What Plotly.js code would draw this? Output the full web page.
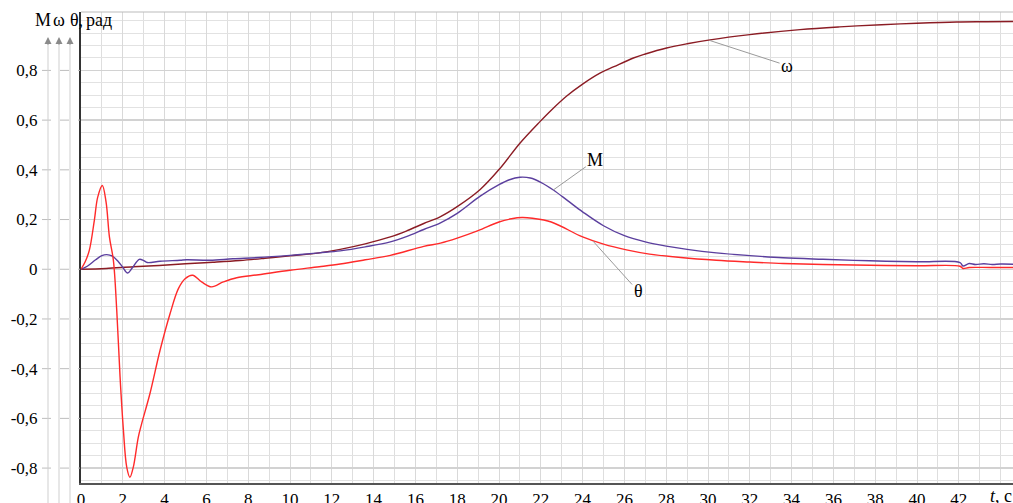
<!DOCTYPE html>
<html>
<head>
<meta charset="utf-8">
<script src="https://cdn.plot.ly/plotly-3.0.1.min.js"></script>
<style>html,body{margin:0;padding:0;background:#fff;}#chart{width:1013px;height:503px;}</style>
</head>
<body>
<div id="chart"></div>
<script>
// ---- data ----
var tOmega = [0, 1.2, 2.5, 3.74, 5, 6.3, 7.6, 8.8, 10, 11.4, 12.4, 13.6, 14.8, 15.6, 16.4, 17.18, 18, 19.1, 20.05, 21, 21.96, 22.5, 23.24, 24, 24.83, 25.5, 26.43, 27, 28.02, 29, 30.1, 32, 34.4, 36.3, 38.3, 40, 41.9, 43.3, 44.7];
var omega  = [0, 0.003, 0.01, 0.015, 0.022, 0.028, 0.035, 0.044, 0.054, 0.066, 0.08, 0.102, 0.13, 0.155, 0.184, 0.211, 0.252, 0.321, 0.406, 0.507, 0.594, 0.64, 0.697, 0.745, 0.789, 0.815, 0.85, 0.866, 0.89, 0.907, 0.923, 0.944, 0.964, 0.975, 0.984, 0.99, 0.995, 0.996, 0.997];

var tM = [0, 0.3, 0.7, 1.0, 1.23, 1.5, 1.79, 2.0, 2.23, 2.45, 2.79, 3.0, 3.17, 3.78, 4.74, 5.06, 6.17, 7.27, 8.5, 10, 11.4, 12.4, 13.6, 14.8, 15.6, 16.4, 17.2, 18, 19.1, 20, 20.5, 21, 21.5, 22, 22.6, 23.3, 24, 25, 26, 27, 28, 29, 30.4, 32, 33.6, 35.5, 37.75, 40, 42.06, 42.2, 42.5, 42.8, 43.2, 43.6, 44, 44.7];
var M  = [0, 0.012, 0.038, 0.055, 0.059, 0.053, 0.03, 0.008, -0.015, 0.005, 0.04, 0.035, 0.027, 0.032, 0.036, 0.038, 0.036, 0.042, 0.047, 0.056, 0.066, 0.074, 0.09, 0.11, 0.132, 0.16, 0.187, 0.225, 0.294, 0.34, 0.36, 0.37, 0.367, 0.35, 0.319, 0.275, 0.231, 0.175, 0.135, 0.11, 0.093, 0.08, 0.066, 0.055, 0.046, 0.04, 0.034, 0.03, 0.027, 0.013, 0.023, 0.019, 0.022, 0.019, 0.021, 0.02];

var tTheta = [0, 0.2, 0.4, 0.64, 0.8, 1.02, 1.2, 1.36, 1.55, 1.71, 1.87, 2.02, 2.19, 2.34, 2.5, 2.74, 2.9, 3.3, 3.78, 4.26, 4.66, 4.98, 5.34, 5.77, 6.25, 6.81, 7.45, 8.5, 10, 11.4, 12.4, 13.6, 14.8, 16.4, 17.2, 18, 19, 20, 20.6, 21.1, 21.6, 22.5, 24, 25, 26.1, 27.2, 28.7, 30.4, 32, 33.6, 35.5, 37.75, 40, 42.06, 42.2, 42.5, 43.5, 44.7];
var theta  = [0, 0.03, 0.077, 0.198, 0.29, 0.337, 0.27, 0.13, 0.036, -0.165, -0.434, -0.636, -0.797, -0.837, -0.797, -0.676, -0.622, -0.5, -0.327, -0.179, -0.078, -0.038, -0.024, -0.051, -0.071, -0.051, -0.034, -0.022, -0.004, 0.01, 0.021, 0.038, 0.056, 0.092, 0.105, 0.125, 0.155, 0.19, 0.203, 0.208, 0.205, 0.19, 0.13, 0.101, 0.078, 0.061, 0.047, 0.036, 0.029, 0.023, 0.019, 0.016, 0.014, 0.012, 0.003, 0.007, 0.007, 0.007];

var xTickVals = [0,2,4,6,8,10,12,14,16,18,20,22,24,26,28,30,32,34,36,38,40,42];
var yTickVals = [-0.8,-0.6,-0.4,-0.2,0,0.2,0.4,0.6,0.8];
var yTickText = ['-0,8','-0,6','-0,4','-0,2','0','0,2','0,4','0,6','0,8'];

// ---- chart ----
var serif = 'Liberation Serif';
var W = 1013, H = 503, ML = 81, MB = 20, MT = 12;
var PW = W - ML, PH = H - MT - MB;
function px2x(p){ return (p - ML) / PW; }
function py2y(p){ return (H - MB - p) / PH; }

var traces = [
  {x: tOmega, y: omega, mode: 'lines', line: {color: '#8b1c24', width: 1.4, shape: 'spline', smoothing: 1}, name: 'ω'},
  {x: tM, y: M, mode: 'lines', line: {color: '#5b3f9e', width: 1.4, shape: 'spline', smoothing: 1}, name: 'M'},
  {x: tTheta, y: theta, mode: 'lines', line: {color: '#ff2a2a', width: 1.4, shape: 'spline', smoothing: 1}, name: 'θ'}
];

var shapes = [];
yTickVals.forEach(function(v){
  shapes.push({type:'line', xref:'paper', yref:'y', x0: px2x(42), x1: px2x(80), y0: v, y1: v,
               line:{color:'#bdbdbd', width:1, dash:'dash'}});
});
shapes.push({type:'line', xref:'paper', yref:'paper', x0:0, x1:1, y0:1, y1:1, line:{color:'#bbbbbb', width:1}});
[48, 59, 70].forEach(function(p){
  shapes.push({type:'line', xref:'paper', yref:'paper', x0:px2x(p), x1:px2x(p), y0:py2y(44), y1:py2y(505),
               line:{color:'#cfcfcf', width:1}});
});

var annotations = [];
[48, 59, 70].forEach(function(p){
  annotations.push({xref:'paper', yref:'paper', x:px2x(p), y:py2y(37), text:'', showarrow:true,
    axref:'pixel', ayref:'pixel', ax:0, ay:9, arrowhead:2, arrowsize:1, arrowwidth:1.4, arrowcolor:'#8a8a8a'});
});
function lbl(px, py, txt, xa){
  annotations.push({xref:'paper', yref:'paper', x:px2x(px), y:py2y(py), xanchor:xa, yanchor:'middle',
    text:txt, showarrow:false, font:{family:serif, size:18, color:'#000'}});
}
lbl(43, 20, 'M', 'center');
lbl(58.5, 20, 'ω', 'center');
lbl(68, 20, 'θ,', 'left');
lbl(84, 20, 'рад', 'left');
lbl(988, 496, '<i>t</i>, c', 'left');
// curve labels
annotations.push({x:30.1, y:0.92, text:'ω', showarrow:true, ax:77, ay:25, arrowhead:0, arrowwidth:1, arrowcolor:'#9a9a9a', standoff:0, font:{family:serif, size:18, color:'#000'}});
annotations.push({x:22.6, y:0.319, text:'M', showarrow:true, ax:42, ay:-30, arrowhead:0, arrowwidth:1, arrowcolor:'#9a9a9a', standoff:0, font:{family:serif, size:18, color:'#000'}});
annotations.push({x:24.5, y:0.113, text:'θ', showarrow:true, ax:45, ay:50, arrowhead:0, arrowwidth:1, arrowcolor:'#9a9a9a', standoff:0, font:{family:serif, size:18, color:'#000'}});

var layout = {
  width: W, height: H,
  margin: {l: ML, r: 0, t: MT, b: MB, pad: 0},
  paper_bgcolor: '#fff', plot_bgcolor: '#fff',
  showlegend: false,
  xaxis: {
    range: [0, (W - ML) / 20.9], tickvals: xTickVals, ticktext: xTickVals.map(String),
    showgrid: true, gridcolor: '#d9d9d9', gridwidth: 1,
    minor: {dtick: 1, tick0: 0, showgrid: true, gridcolor: '#dedede', gridwidth: 1},
    zeroline: false, showline: true, linecolor: '#555', linewidth: 1.5,
    ticks: '', tickfont: {family: serif, size: 17, color: '#000'}
  },
  yaxis: {
    range: [-0.86, 1.035], tickvals: yTickVals, ticktext: yTickText,
    showgrid: true, gridcolor: '#d2d2d2', gridwidth: 1.3,
    minor: {dtick: 0.05, tick0: 0, showgrid: true, gridcolor: '#e2e2e2', gridwidth: 1},
    zeroline: false, showline: true, linecolor: '#333', linewidth: 2,
    ticks: 'outside', ticklen: 38, tickcolor: 'rgba(0,0,0,0)',
    tickfont: {family: serif, size: 17, color: '#000'}
  },
  shapes: shapes,
  annotations: annotations
};

Plotly.newPlot('chart', traces, layout, {staticPlot: true, displayModeBar: false});
</script>
</body>
</html>
